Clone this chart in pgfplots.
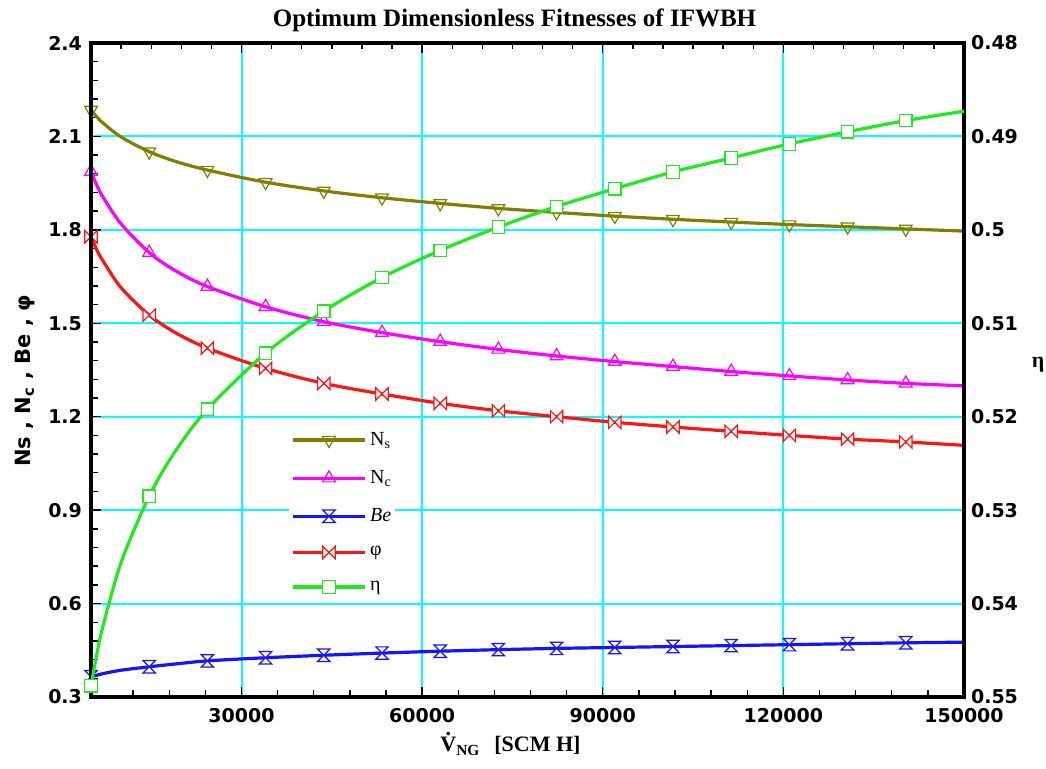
\documentclass[border=0pt]{standalone}
\usepackage{fontspec}
\setmainfont{Liberation Serif}
\newfontfamily\dvs{DejaVu Sans}
\usepackage{pgfplots}
\usepackage{pgfplotstable}
\pgfplotsset{compat=1.18}

\definecolor{cNs}{RGB}{128,128,0}
\definecolor{cNc}{RGB}{255,0,255}
\definecolor{cBe}{RGB}{20,20,255}
\definecolor{cPhi}{RGB}{255,20,20}
\definecolor{cEta}{RGB}{30,235,30}
\definecolor{cGrid}{RGB}{0,255,255}

\pgfdeclareplotmark{hourglass}{%
  \pgfpathmoveto{\pgfqpoint{-\pgfplotmarksize}{\pgfplotmarksize}}%
  \pgfpathlineto{\pgfqpoint{\pgfplotmarksize}{\pgfplotmarksize}}%
  \pgfpathlineto{\pgfqpoint{-\pgfplotmarksize}{-\pgfplotmarksize}}%
  \pgfpathlineto{\pgfqpoint{\pgfplotmarksize}{-\pgfplotmarksize}}%
  \pgfpathclose
  \pgfusepathqfillstroke}
\pgfdeclareplotmark{bowtie}{%
  \pgfpathmoveto{\pgfqpoint{-\pgfplotmarksize}{\pgfplotmarksize}}%
  \pgfpathlineto{\pgfqpoint{-\pgfplotmarksize}{-\pgfplotmarksize}}%
  \pgfpathlineto{\pgfqpoint{\pgfplotmarksize}{\pgfplotmarksize}}%
  \pgfpathlineto{\pgfqpoint{\pgfplotmarksize}{-\pgfplotmarksize}}%
  \pgfpathclose
  \pgfusepathqfillstroke}

\pgfplotsset{
  nsline/.style={cNs, line width=1.6pt, mark=triangle, mark size=3.7pt, mark options={rotate=180, fill=white, line width=0.6pt, solid}},
  ncline/.style={cNc, line width=1.6pt, mark=triangle, mark size=3.7pt, mark options={fill=white, line width=0.6pt, solid}},
  beline/.style={cBe, line width=1.6pt, mark=hourglass, mark size=3.1pt, mark options={fill=white, line width=0.6pt, solid}},
  philine/.style={cPhi, line width=1.6pt, mark=bowtie, mark size=3.1pt, mark options={fill=white, line width=0.6pt, solid}},
  etaline/.style={cEta, line width=1.6pt, mark=square*, mark size=3.1pt, mark options={fill=white, line width=0.6pt, solid}},
  common/.style={scale only axis, width=436.5pt, height=327pt,
    xmin=5000, xmax=150000, scaled x ticks=false, scaled y ticks=false,
    axis line style={black, line width=1.7pt, line cap=rect},
    tick label style={font=\dvs\bfseries\fontsize{9.5}{11}\selectfont}},
}

\pgfplotstableread{
x Ns Nc Be phi eta
5000 2.185 1.987 0.365 1.778 0.5488
6000 2.162 1.942 0.370 1.734 0.5453
7000 2.143 1.905 0.375 1.700 0.5424
10000 2.098 1.819 0.386 1.614 0.5356
14667 2.051 1.727 0.397 1.526 0.5285
19000 2.020 1.669 0.406 1.470 0.5237
24333 1.992 1.618 0.416 1.420 0.5192
34000 1.953 1.553 0.426 1.355 0.5132
43667 1.925 1.505 0.434 1.307 0.5087
53333 1.903 1.470 0.441 1.273 0.5051
63000 1.885 1.441 0.447 1.243 0.5022
72667 1.869 1.416 0.452 1.219 0.4997
82333 1.856 1.395 0.456 1.200 0.4975
92000 1.844 1.377 0.459 1.182 0.4956
101667 1.834 1.361 0.462 1.167 0.4938
111333 1.825 1.345 0.465 1.153 0.4923
121000 1.817 1.331 0.468 1.140 0.4908
130667 1.810 1.318 0.471 1.128 0.4895
140333 1.803 1.307 0.474 1.119 0.4883
150000 1.796 1.299 0.476 1.108 0.4873
}\curves

\pgfplotstableread{
x Ns Nc Be phi eta
5000 2.185 1.987 0.365 1.778 0.5488
14667 2.051 1.727 0.397 1.526 0.5285
24333 1.992 1.618 0.416 1.420 0.5192
34000 1.953 1.553 0.426 1.355 0.5132
43667 1.925 1.505 0.434 1.307 0.5087
53333 1.903 1.470 0.441 1.273 0.5051
63000 1.885 1.441 0.447 1.243 0.5022
72667 1.869 1.416 0.452 1.219 0.4997
82333 1.856 1.395 0.456 1.200 0.4975
92000 1.844 1.377 0.459 1.182 0.4956
101667 1.834 1.361 0.462 1.167 0.4938
111333 1.825 1.345 0.465 1.153 0.4923
121000 1.817 1.331 0.468 1.140 0.4908
130667 1.810 1.318 0.471 1.128 0.4895
140333 1.803 1.307 0.474 1.119 0.4883
}\markers

\newcommand{\Vdot}{\ooalign{\hidewidth\smash{\raisebox{0.74em}{.}}\hidewidth\cr V}}

\begin{document}
\begin{tikzpicture}
\begin{axis}[common, name=ax1,
  ymin=0.3, ymax=2.4,
  xtick pos=left, ytick pos=left,
  tick align=inside, major tick length=5pt, minor tick length=3.5pt,
  xtick style={black, line width=0.7pt},
  ytick style={black, line width=0.7pt},
  xtick={30000,60000,90000,120000,150000},
  xticklabels={30000,60000,90000,120000,150000},
  minor x tick num=4,
  extra x ticks={12000,18000,24000},
  extra x tick labels={},
  extra x tick style={grid=none, major tick length=3.5pt},
  ytick={0.3,0.6,0.9,1.2,1.5,1.8,2.1,2.4},
  yticklabels={0.3,0.6,0.9,1.2,1.5,1.8,2.1,2.4},
  minor y tick num=4,
  grid=major,
  grid style={cGrid, line width=1pt},
  major grid style={cGrid, line width=1pt},
  yticklabel style={xshift=-1pt},
  xticklabel style={yshift=-2pt},
]
\addplot[nsline, no markers, smooth, forget plot] table[x=x,y=Ns]{\curves};
\addplot[nsline, only marks, forget plot] table[x=x,y=Ns]{\markers};
\addplot[ncline, no markers, smooth, forget plot] table[x=x,y=Nc]{\curves};
\addplot[ncline, only marks, forget plot] table[x=x,y=Nc]{\markers};
\addplot[beline, no markers, smooth, forget plot] table[x=x,y=Be]{\curves};
\addplot[beline, only marks, forget plot] table[x=x,y=Be]{\markers};
\addplot[philine, no markers, smooth, forget plot] table[x=x,y=phi]{\curves};
\addplot[philine, only marks, forget plot] table[x=x,y=phi]{\markers};
\end{axis}

\begin{axis}[common, name=ax2,
  ymin=0.48, ymax=0.55, y dir=reverse,
  grid=none,
  xtick pos=right, ytick pos=right, yticklabel pos=right,
  tick align=inside, major tick length=5pt, minor tick length=3pt,
  xtick style={black, line width=0.7pt},
  major y tick style={draw=none},
  xtick={30000,60000,90000,120000,150000}, xticklabels={},
  minor x tick num=5,
  extra x ticks={10000,15000,20000,25000},
  extra x tick labels={},
  extra x tick style={grid=none, major tick length=3pt},
  ytick={0.48,0.49,0.50,0.51,0.52,0.53,0.54,0.55},
  yticklabels={0.48,0.49,0.5,0.51,0.52,0.53,0.54,0.55},
  legend style={draw=none, fill=white, at={(0.2268,0.4113)}, anchor=north west,
    font=\fontsize{10}{12}\selectfont, inner sep=1pt, row sep=9.4pt,
    nodes={inner sep=0.8pt}, column sep=1pt},
  legend cell align=left,
  legend image code/.code={\draw[mark repeat=2,mark phase=2,#1] plot coordinates {(0pt,0pt) (18pt,0pt) (36pt,0pt)};},
]
\addplot[etaline, no markers, smooth, forget plot] table[x=x,y=eta]{\curves};
\addplot[etaline, only marks, forget plot] table[x=x,y=eta]{\markers};
\addlegendimage{nsline}
\addlegendentry{N\textsubscript{s}}
\addlegendimage{ncline}
\addlegendentry{N\textsubscript{c}}
\addlegendimage{beline}
\addlegendentry{\textit{Be}}
\addlegendimage{philine}
\addlegendentry{φ}
\addlegendimage{etaline}
\addlegendentry{η}
\end{axis}

\node[anchor=base, font=\bfseries\fontsize{12.5}{14}\selectfont] at ([xshift=-6.5pt, yshift=8.25pt]ax1.north) {Optimum Dimensionless Fitnesses of IFWBH};
\node[anchor=base, font=\bfseries\fontsize{11}{13}\selectfont] at ([xshift=-8.5pt, yshift=-27.5pt]ax1.south) {\Vdot\textsubscript{NG}\hspace{7pt}[SCM H]};
\node[rotate=90, font=\dvs\bfseries\fontsize{10.5}{12}\selectfont] at ([xshift=-33pt, yshift=-5.5pt]ax1.west) {Ns , N\textsubscript{c} , Be , φ};
\node[font=\bfseries\fontsize{11}{13}\selectfont] at ([xshift=37pt, yshift=2.5pt]ax1.east) {η};

\pgfresetboundingbox
\path[use as bounding box] ([shift={(-45.5pt,-36pt)}]ax1.south west) rectangle ([shift={(41pt,21.5pt)}]ax1.north east);
\end{tikzpicture}
\end{document}
